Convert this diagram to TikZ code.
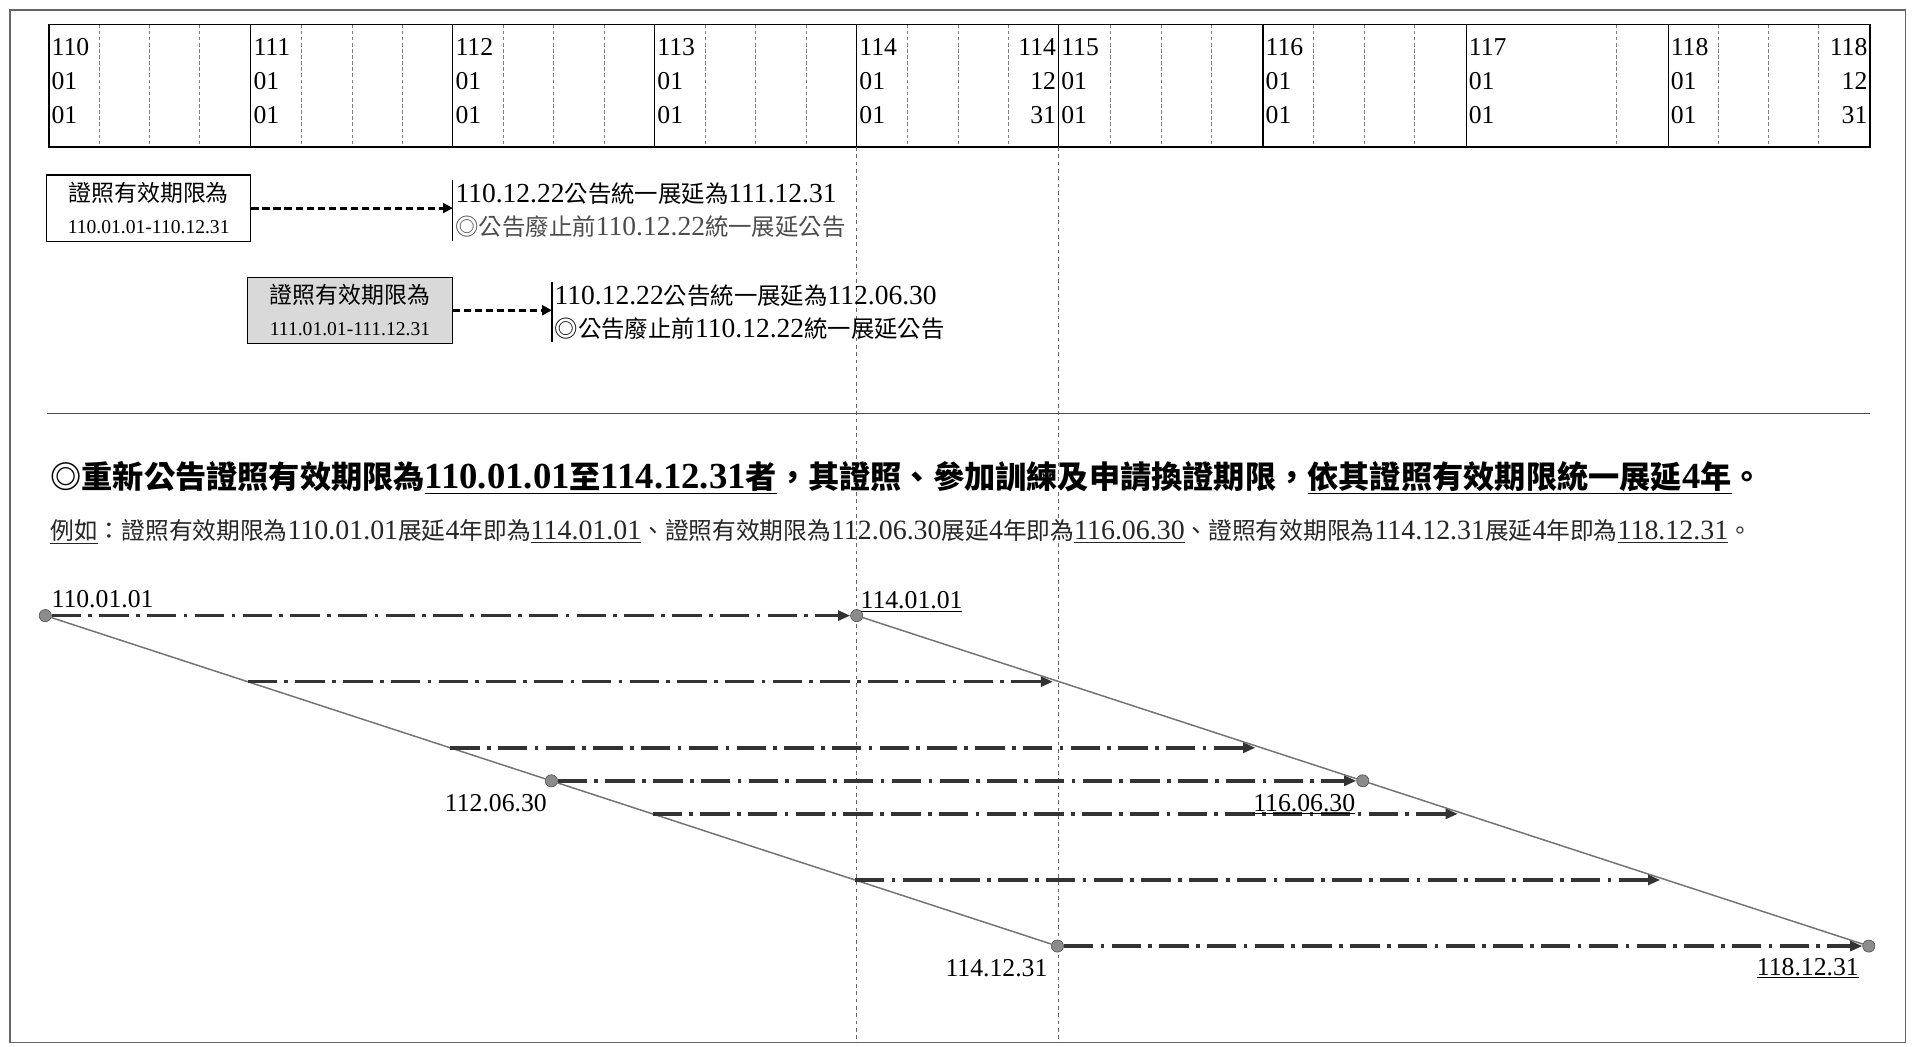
\documentclass[tikz,border=0pt]{standalone}
\usepackage{fontspec}
\setmainfont{Liberation Serif}
\newfontfamily\zhfont{Noto Sans CJK TC}[Scale=0.85]
\usetikzlibrary{arrows.meta,positioning}
\newcommand{\zh}[1]{{\zhfont#1}}

\begin{document}
\begin{tikzpicture}[x=1pt,y=-1pt,
	yr/.style={inner sep=0pt,font=\fontsize{21}{28}\selectfont},
	qtr/.style={black!50,densely dashed,line width=0.6pt},
	guide/.style={black!60,dashed,line width=0.6pt},
	card/.style={draw,line width=0.9pt,minimum width=167pt,minimum height=54pt,align=center,inner sep=0pt,font=\fontsize{22}{26}\selectfont},
	note/.style={anchor=west,align=left,inner sep=2pt,font=\fontsize{22.5}{27}\selectfont},
	ext/.style={line width=2.5pt,dash pattern=on 6pt off 3pt,-{Triangle[length=8pt,width=8pt]}},
	slant/.style={black!55,line width=1.2pt},
	shift4/.style={black!80,line width=2.8pt,dash pattern=on 24pt off 6pt on 3pt off 6pt,-{Triangle[length=10pt,width=8pt]}},
	pin/.style={circle,fill=black!45,draw=black!75,inner sep=0pt,minimum size=10pt},
	date/.style={inner sep=1pt,font=\fontsize{21}{24}\selectfont}]
	\useasboundingbox (0,0) rectangle (1568,855);
	\draw[black!60,line width=1.2pt] (8,8) rectangle (1557,852);
	\foreach \x in {81,122,163,246,288,329,411,452,494,576,617,659,741,783,824,907,949,990,1073,1115,1156,1321,1404,1445,1486}
		\draw[qtr] (\x,20) -- (\x,120);
	\foreach \x in {205,370,535,700,865,1032,1198,1363}
		\draw[line width=0.9pt] (\x,20) -- (\x,120);
	\draw[line width=1.4pt] (40,20) rectangle (1528,120);
	\foreach \x/\y in {40/110,205/111,370/112,535/113,700/114,865/115,1032/116,1198/117,1363/118}
		\node[yr,anchor=north west,align=left] (c\y) at (\x+2,31) {\y\\01\\01};
	\node[yr,anchor=north east,align=right] (c114e) at (863,31) {114\\12\\31};
	\node[yr,anchor=north east,align=right] (c118e) at (1526,31) {118\\12\\31};
	\draw[guide] (700,120) -- (700,852);
	\draw[guide] (865,120) -- (865,852);
	\draw[black!70,line width=1.3pt] (38,338) -- (1528,338);
	\node[card] (old1) at (121.5,170) {\zh{證照有效期限為}\\{\fontsize{16}{26}\selectfont 110.01.01-110.12.31}};
	\node[card,fill=black!15] (old2) at (286,253.5) {\zh{證照有效期限為}\\{\fontsize{16}{26}\selectfont 111.01.01-111.12.31}};
	\node[note] (ann1) at (370,172) {110.12.22\zh{公告統一展延為}111.12.31\\\textcolor{black!70}{\zh{◎公告廢止前}110.12.22\zh{統一展延公告}}};
	\node[note] (ann2) at (451,255) {110.12.22\zh{公告統一展延為}112.06.30\\\zh{◎公告廢止前}110.12.22\zh{統一展延公告}};
	\draw[line width=0.9pt] (ann1.north west) -- (ann1.south west);
	\draw[line width=0.9pt] (ann2.north west) -- (ann2.south west);
	\draw[ext] (old1.east) -- (old1.east -| ann1.west);
	\draw[ext] (old2.east) -- (old2.east -| ann2.west);
	\node[anchor=base west,inner sep=0pt,font=\bfseries\fontsize{30}{34}\selectfont] (head) at (41,399) {\zh{◎重新公告證照有效期限為}\underline{110.01.01\zh{至}114.12.31\zh{者}}\zh{，其證照、參加訓練及申請換證期限，}\underline{\zh{依其證照有效期限統一展延}4\zh{年}}\zh{。}};
	\node[anchor=base west,inner sep=0pt,text=black!85,font=\fontsize{22.8}{26}\selectfont] (ex) at (41,441) {\underline{\zh{例如}}\zh{：證照有效期限為}110.01.01\zh{展延}4\zh{年即為}\underline{114.01.01}\zh{、證照有效期限為}112.06.30\zh{展延}4\zh{年即為}\underline{116.06.30}\zh{、證照有效期限為}114.12.31\zh{展延}4\zh{年即為}\underline{118.12.31}\zh{。}};
	\path (37,503) coordinate (a0) -- coordinate[pos=0.2] (a1) coordinate[pos=0.4] (a2) coordinate[pos=0.5] (am) coordinate[pos=0.6] (a3) coordinate[pos=0.8] (a4) (864,773) coordinate (a5);
	\path (700,503) coordinate (b0) -- coordinate[pos=0.2] (b1) coordinate[pos=0.4] (b2) coordinate[pos=0.5] (bm) coordinate[pos=0.6] (b3) coordinate[pos=0.8] (b4) (1527,773) coordinate (b5);
	\foreach \n in {a0,am,a5,b0,bm,b5}
		\node[pin] (p\n) at (\n) {};
	\draw[slant] (pa0) -- (pam) -- (pa5);
	\draw[slant] (pb0) -- (pbm) -- (pb5);
	\draw[shift4] (pa0) -- (pb0);
	\draw[shift4] (pam) -- (pbm);
	\draw[shift4] (pa5) -- (pb5);
	\foreach \i in {1,...,4}
		\draw[shift4,shorten >=5pt] (a\i) -- (b\i);
	\node[date,above right=5pt and 4pt of a0] (t11001) {110.01.01};
	\node[date,above right=2pt and 2pt of b0] (t11401) {\underline{114.01.01}};
	\node[date,below left=10pt and 2.5pt of am] (t11206) {112.06.30};
	\node[date,below left=10pt and 5pt of bm] (t11606) {\underline{116.06.30}};
	\node[date,below left=10pt and 7pt of a5] (t11412) {114.12.31};
	\node[date,below left=9pt and 7pt of b5] (t11812) {\underline{118.12.31}};
\end{tikzpicture}
\end{document}
